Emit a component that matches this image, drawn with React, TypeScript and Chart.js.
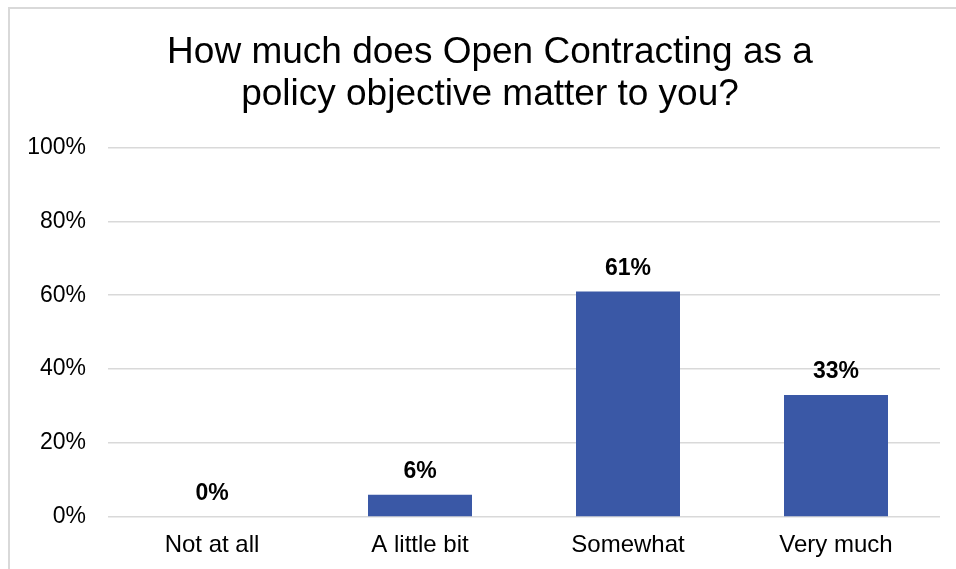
import React, { useEffect, useRef } from "react";
import { Chart, registerables } from "chart.js";

Chart.register(...registerables);

const TITLE_LINES = ["How much does Open Contracting as a", "policy objective matter to you?"];
const CATEGORIES = ["Not at all", "A little bit", "Somewhat", "Very much"];
const VALUES = [0, 6, 61, 33];
const Y_TICKS = [0, 20, 40, 60, 80, 100];

const FONT = "'Liberation Sans', Arial, sans-serif";
const BAR_COLOR = "#3A58A6";
const GRID_COLOR = "#d9d9d9";
const TEXT_COLOR = "#000000";

const dataLabelPlugin = {
  id: "dataLabels",
  afterDatasetsDraw(chart: any) {
    const ctx = chart.ctx;
    const meta = chart.getDatasetMeta(0);
    ctx.save();
    ctx.font = `bold 23px ${FONT}`;
    ctx.fillStyle = TEXT_COLOR;
    ctx.textAlign = "center";
    ctx.textBaseline = "alphabetic";
    meta.data.forEach((bar: any, i: number) => {
      ctx.fillText(`${VALUES[i]}%`, bar.x, bar.y - 17);
    });
    ctx.restore();
  },
};

export default function App() {
  const ref = useRef<HTMLCanvasElement | null>(null);

  useEffect(() => {
    if (!ref.current) return;
    const chart = new Chart(ref.current, {
      type: "bar",
      data: {
        labels: CATEGORIES,
        datasets: [
          {
            data: VALUES,
            backgroundColor: BAR_COLOR,
            categoryPercentage: 1,
            barPercentage: 0.5,
            yAxisID: "y",
          },
        ],
      },
      options: {
        animation: false,
        responsive: false,
        maintainAspectRatio: false,
        layout: { padding: { left: 0, right: 0, top: 0, bottom: 22 } },
        plugins: {
          legend: { display: false },
          tooltip: { enabled: false },
          title: {
            display: true,
            text: TITLE_LINES,
            color: TEXT_COLOR,
            font: { family: FONT, size: 37, weight: "normal", lineHeight: 1.14 },
            padding: { top: 23, bottom: 31 },
          },
        },
        scales: {
          x: {
            grid: { display: false, drawTicks: false },
            border: { display: false },
            ticks: {
              color: TEXT_COLOR,
              font: { family: FONT, size: 24 },
              padding: 14,
              maxRotation: 0,
              autoSkip: false,
            },
            afterFit(scale: any) {
              scale.height = 50;
            },
          },
          y: {
            min: 0,
            max: 100,
            afterBuildTicks(scale: any) {
              scale.ticks = Y_TICKS.map((v) => ({ value: v }));
            },
            grid: { color: GRID_COLOR, lineWidth: 1.5, drawTicks: false },
            border: { display: false },
            ticks: {
              color: TEXT_COLOR,
              font: { family: FONT, size: 23 },
              padding: 22,
              callback: (v: any) => `${v}%`,
            },
            afterFit(scale: any) {
              scale.width = 98;
            },
          },
          yRightSpacer: {
            type: "linear",
            position: "right",
            min: 0,
            max: 100,
            grid: { display: false, drawTicks: false },
            border: { display: false },
            ticks: { display: false },
            afterFit(scale: any) {
              scale.width = 30;
            },
          },
        },
      },
      plugins: [dataLabelPlugin],
    });
    return () => chart.destroy();
  }, []);

  return (
    <div style={{ position: "fixed", inset: 0, overflow: "hidden", background: "#fff" }}>
      <div
        style={{
          position: "absolute",
          left: 8,
          top: 7,
          width: 980,
          height: 600,
          border: `2px solid ${GRID_COLOR}`,
          background: "#fff",
        }}
      >
        <canvas ref={ref} width={960} height={580} style={{ display: "block", width: 960, height: 580 }} />
      </div>
    </div>
  );
}
